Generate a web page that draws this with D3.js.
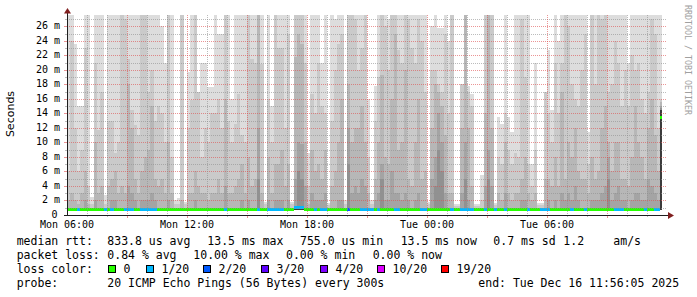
<!DOCTYPE html>
<html><head><meta charset="utf-8">
<script src="https://cdn.jsdelivr.net/npm/d3@7"></script>
<style>body{margin:0;background:#fff}svg{display:block}</style>
</head><body><svg id="c" width="697" height="297"></svg>
<script>
// ---- data (10-minute columns starting Mon 06:00), values in ms ----
const p20 = [
30,30,23.6,15,15,30,30,2.5,30,30,
30,2.8,30,30,30,30,30,30,30,30,
30,30,30,30,30,30,30,30,26,21,
30,30,2,2.3,30,1.8,19.7,30,30,17,
21,21,17.6,17.6,30,25,25,30,30,16,
30,30,30,30,30,30,30,30,30,1.8,
30,15,30,30,30,30,30,1.8,30,30,
30,30,8.5,30,30,30,21,30,1.6,30,
27,30,30,2,30,30,30,30,30,30,
16,2,17.8,30,30,30,27,30,30,30,
30,30,30,30,30,30,30,30,1.8,26,
30,25.7,25.7,30,24,30,1.5,1.5,18,30,
17.8,16.7,1.5,1.5,5.5,30,30,30,1.6,13.5,
12.6,30,13.5,11.4,30,30,30,30,30,7,
21,1.6,1.6,17,22.7,14.4,30,24,30,30,
30,30,30,30,30,30,11.5,30,30,30,
30,30,30,30,30,30,30,30,21,30,
30,30,30,30,30,30,30,30,30];
const p19 = [
6,24,12,6,9,23,4,1.5,21,11.7,
17,1.5,13,13,8.5,10,30,27,21.5,14.5,
12.4,11,30,30,17,20,13,15,14,10,
30,8,1.5,1.5,28,1.5,12,15.8,30,17,
8,12,10,14,14,16,12,30,13,10,
12.5,16.7,11,10,30,21.5,21,30,20.8,1.5,
16,10,30,23,23,12,25,1.5,30,30,
30,21,4,16.7,14,21,15,14,1.4,13,
20,23.6,25,1.5,30,30,27,20,23,30,
8,1.5,13,19,30,26,20,30,30,22.7,
21,30,27,23,21,27,24,17,1.5,20,
20,18,17,25,14,30,1.3,1.3,18,30,
17,15,1.3,1.3,2,30,30,30,1.4,8,
7,14,9,7,8.5,8,27,19,7,4,
9,1.4,1.4,17,14,10,21,14,21,30,
26,18,16,15,20,25,7,30,18,30,
27,30,17,18,24,21,15,20,15,22,
20,21,16,14,17,27,25,12,16];
const p18 = [
2,3,2,1.5,3,6,1.5,1,10,3,
4,1,4,5,6,3,4,3,18,12,
5,3,6,8,9,15,5,4,5,3,
10,3,1,1,2,1,3,3,6,4,
3,3,2,3,3,5,3,16,3,3,
4,5,7,3,8,4,5,30,3,1,
8,3,7,7,9,4,7,1,21.8,25,
23.6,10,1.5,9,6,7,5,9,1,4,
6,10,16,1,18,10,12,12,15,10,
3,1,5,10,19.3,8,7,16,25,9,
10,20,5,4,10,16,5,6,1,12,
18,17,15,11,3,3,1,1,12,30,
12,4,1,1,1,14,28,12,1,3,
2,10,3,2,3,3,5,8,3,2,
3,1,1,5,5,4,8,4,17,5,
10,8,12,6,5,5,3,8,5,6,
12,15,10,6,10,10,5,5,4,8,
15,10,8,5,12,16,11,6,15.5];
const p17 = [
1,1,1,1,1,2,1,0.9,2,1,
1,0.9,1,2,2,1,1,1,4,3,
2,1,2,2,2,3,2,1,1,1,
2,1,0.9,0.9,1,0.9,1,1,2,1,
1,1,1,1,1,1,1,4,1,1,
1,1,2,1,2,1,1,12,1,0.9,
2,1,2,2,2,1,2,0.9,5,10,
9.8,4,1,3,2,2,2,3,0.9,1,
1,2,2,0.9,12,3,4,3,5,4,
1,0.9,2,3,7,2,2,6,3,3,
2,3,2,1,2,3,1,1,0.9,5,
8,14,10,3,1,1,0.9,0.9,3,10,
2,1,0.9,0.9,0.9,4,9,4,0.9,1,
1,3,1,1,1,1,2,2,1,1,
1,0.9,0.9,1,2,1,2,1,3,2,
3,2,4,2,1,1,1,2,2,2,
3,4,8,2,3,4,2,2,1,2,
3,3,2,2,5,4,3,2,15];
const p16 = [
0.8,0.8,0.8,0.8,0.8,0.8,0.8,0.8,0.8,0.8,
0.8,0.8,0.8,0.8,0.8,0.8,0.8,0.8,0.8,0.8,
0.8,0.8,0.8,0.8,0.8,0.8,0.8,0.8,0.8,0.8,
0.8,0.8,0.8,0.8,0.8,0.8,0.8,0.8,0.8,0.8,
0.8,0.8,0.8,0.8,0.8,0.8,0.8,0.8,0.8,0.8,
0.8,0.8,0.8,0.8,0.8,0.8,0.8,5,0.8,0.8,
0.8,0.8,0.8,0.8,0.8,0.8,0.8,0.8,0.8,6,
5,0.8,0.8,0.8,0.8,0.8,0.8,0.8,0.8,0.8,
0.8,0.8,0.8,0.8,7,0.8,0.8,0.8,0.8,0.8,
0.8,0.8,0.8,0.8,5,0.8,0.8,0.8,0.8,0.8,
0.8,0.8,0.8,0.8,0.8,0.8,0.8,0.8,0.8,0.8,
4,9,6,0.8,0.8,0.8,0.8,0.8,0.8,5,
0.8,0.8,0.8,0.8,0.8,0.8,5,0.8,0.8,0.8,
0.8,0.8,0.8,0.8,0.8,0.8,0.8,0.8,0.8,0.8,
0.8,0.8,0.8,0.8,0.8,0.8,0.8,0.8,0.8,0.8,
0.8,0.8,0.8,0.8,0.8,0.8,0.8,0.8,0.8,0.8,
0.8,0.8,5,0.8,0.8,0.8,0.8,0.8,0.8,0.8,
0.8,0.8,0.8,0.8,0.8,0.8,0.8,0.8,14.8];
const innerCore = p16.map((v, i) => i === p16.length - 1 ? 14.5 : 0.8);
const median = [
0.8,0.8,0.8,0.8,0.8,0.8,0.8,0.8,0.8,0.8,
0.8,0.8,0.8,0.8,0.8,0.8,0.8,0.8,0.8,0.8,
0.8,0.8,0.8,0.8,0.8,0.8,0.8,0.8,0.8,0.8,
0.8,0.8,0.8,0.8,0.8,0.8,0.8,0.8,0.8,0.8,
0.8,0.8,0.8,0.8,0.8,0.8,0.8,0.8,0.8,0.8,
0.8,0.8,0.8,0.8,0.8,0.8,0.8,0.8,0.8,0.8,
0.8,0.8,0.8,0.8,0.8,0.8,0.8,0.8,1.1,1.1,
1.1,0.8,0.8,0.8,0.8,0.8,0.8,0.8,0.8,0.8,
0.8,0.8,0.8,0.8,0.8,0.8,0.8,0.8,0.8,0.8,
0.8,0.8,0.8,0.8,0.8,0.8,0.8,0.8,0.8,0.8,
0.8,0.8,0.8,0.8,0.8,0.8,0.8,0.8,0.8,0.8,
0.8,0.8,0.8,0.8,0.8,0.8,0.8,0.8,0.8,0.8,
0.8,0.8,0.8,0.8,0.8,0.8,0.8,0.8,0.8,0.8,
0.8,0.8,0.8,0.8,0.8,0.8,0.8,0.8,0.8,0.8,
0.8,0.8,0.8,0.8,0.8,0.8,0.8,0.8,0.8,0.8,
0.8,0.8,0.8,0.8,0.8,0.8,0.8,0.8,0.8,0.8,
0.8,0.8,0.8,0.8,0.8,0.8,0.8,0.8,0.8,0.8,
0.8,0.8,0.8,0.8,0.8,0.8,0.8,0.8,13.5];
const loss = [
0,0,0,1,0,0,0,0,0,0,
0,1,0,1,0,0,0,1,1,1,
0,0,1,1,1,1,1,0,0,0,
0,0,0,0,0,0,0,0,0,0,
0,0,0,0,0,0,0,1,0,0,
0,0,0,0,0,0,0,1,0,0,
1,1,1,1,1,0,0,0,1,1,
1,0,0,0,1,0,1,1,0,0,
0,0,0,0,2,0,0,0,1,1,
1,1,0,1,0,0,0,0,1,1,
0,0,0,0,0,0,1,1,0,0,
0,0,0,0,0,1,0,0,1,1,
1,1,0,0,0,1,0,0,1,0,
0,1,0,0,0,0,0,0,1,0,
0,0,1,1,1,0,0,0,0,0,
0,1,0,0,0,1,0,0,0,0,
0,0,0,0,1,1,1,0,0,0,
0,0,0,1,0,0,1,1,0];
const minRtt = 0.72;
const yTicks = [0,2,4,6,8,10,12,14,16,18,20,22,24,26];
const yTickLabels = ["0","2 m","4 m","6 m","8 m","10 m","12 m","14 m","16 m","18 m","20 m","22 m","24 m","26 m"];
const lossThresh = [0,1,2,3,4,10,19];
const lossLabels = ["0","1/20","2/20","3/20","4/20","10/20","19/20"];
const lossColors = ["#26ff00","#00b8ff","#0059ff","#5e00ff","#7e00ff","#dd00ff","#ff0000"];
const legendLines = [
  [["median rtt:",16.7],["833.8 us avg",107.3],["13.5 ms max",207.3],["755.0 us min",300],["13.5 ms now",400.7],["0.7 ms sd",493.3],["1.2",563.3],["am/s",613.3]],
  [["packet loss:",16.7],["0.84 % avg",107.3],["10.00 % max",193.3],["0.00 % min",286],["0.00 % now",372.7]],
  [["loss color:",16.7]],
  [["probe:",16.7],["20 ICMP Echo Pings (56 Bytes) every 300s",107.3],["end: Tue Dec 16 11:56:05 2025",478.3]]
];

// ---- layout ----
const svg = d3.select("#c");
const t0 = new Date(2025,11,15,6,0,0), tEnd = new Date(2025,11,16,12,0,0);
const dataEnd = new Date(2025,11,16,11,45,0);
const stepMs = 10*60*1000;
const x = d3.scaleTime().domain([t0,tEnd]).range([67,667]);
const y = d3.scaleLinear().domain([0,27.55]).range([215,15]);
const mono = "'DejaVu Sans Mono', monospace";

svg.append("defs").append("clipPath").attr("id","plot")
  .append("rect").attr("x",67).attr("y",15).attr("width",600).attr("height",200);
const g = svg.append("g").attr("clip-path","url(#plot)").attr("shape-rendering","crispEdges");

const colX = i => Math.round(x(new Date(t0.getTime()+i*stepMs)));
const colX1 = i => Math.round(x(new Date(Math.min(t0.getTime()+(i+1)*stepMs, dataEnd.getTime()))));

const bands = [
  [p20,"#dddddd"],[p19,"#cacaca"],[p18,"#b7b7b7"],[p17,"#a4a4a4"],[p16,"#919191"],[innerCore,"#3c3c3c"]
];
bands.forEach(([vals,col]) => {
  g.append("g").selectAll("rect").data(vals.map((v,i)=>({v,i})).filter(d=>d.v>minRtt))
    .join("rect")
    .attr("x",d=>colX(d.i)).attr("width",d=>colX1(d.i)-colX(d.i))
    .attr("y",d=>y(Math.min(d.v,29))).attr("height",d=>y(minRtt)-y(Math.min(d.v,29)))
    .attr("fill",col);
});
const lossColor = n => { let c = lossColors[0]; lossThresh.forEach((t,k)=>{ if(n>=t) c = lossColors[k]; }); return c; };
g.append("g").selectAll("rect").data(median.map((v,i)=>({v,i,l:loss[i]})))
  .join("rect")
  .attr("x",d=>colX(d.i)).attr("width",d=>colX1(d.i)-colX(d.i))
  .attr("y",d=>Math.round(y(d.v))-1).attr("height",3)
  .attr("fill",d=>lossColor(d.l));

// ---- grid (on top) ----
const grid = svg.append("g").attr("shape-rendering","crispEdges");
const minorCol = "rgba(143,143,143,0.6)", majorCol = "rgba(222,79,79,0.6)";
d3.range(1,28).forEach(v => {
  const yy = Math.round(y(v))+0.5;
  grid.append("line").attr("x1",67).attr("x2",667).attr("y1",yy).attr("y2",yy)
    .attr("stroke", v%2===0 ? majorCol : minorCol).attr("stroke-dasharray","1,1");
  grid.append("line").attr("x1",v%2===0?64:65).attr("x2",67).attr("y1",yy).attr("y2",yy)
    .attr("stroke", v%2===0 ? majorCol : minorCol);
});
d3.timeHour.range(new Date(2025,11,15,7), tEnd).forEach(t => {
  const xx = Math.round(x(t))+0.5;
  const major = t.getHours()%3===0;
  grid.append("line").attr("x1",xx).attr("x2",xx).attr("y1",15).attr("y2",215)
    .attr("stroke", major ? majorCol : minorCol).attr("stroke-dasharray","1,1");
  grid.append("line").attr("x1",xx).attr("x2",xx).attr("y1",215).attr("y2",major?218:217)
    .attr("stroke", major ? majorCol : minorCol);
});

// ---- axes ----
const ax = svg.append("g").attr("shape-rendering","crispEdges");
ax.append("line").attr("x1",67.5).attr("x2",67.5).attr("y1",216).attr("y2",12).attr("stroke","#1f1f1f");
ax.append("line").attr("x1",64).attr("x2",670).attr("y1",215.5).attr("y2",215.5).attr("stroke","#1f1f1f");
svg.append("path").attr("d","M64,13.5 L71,13.5 L67.5,8 Z").attr("fill","#801f1f");
svg.append("path").attr("d","M668,212 L668,219 L674,215.5 Z").attr("fill","#801f1f");

// y labels
svg.append("g").selectAll("text").data(yTicks).join("text")
  .attr("x",d=> d===0 ? 57.5 : 60).attr("y",d=>Math.round(y(d))+3)
  .attr("text-anchor","end").attr("font-family",mono).attr("font-size","10px").attr("fill","#000")
  .text((d,i)=>yTickLabels[i]);
// x labels
const xTicks = d3.timeHour.every(6).range(t0, tEnd);
const fmt = d3.timeFormat("%a %H:%M");
svg.append("g").selectAll("text").data(xTicks).join("text")
  .attr("x",d=>x(d)).attr("y",227.5).attr("text-anchor","middle")
  .attr("font-family",mono).attr("font-size","10px").attr("fill","#000")
  .text(d=>fmt(d));

svg.append("text").attr("transform","translate(14,114) rotate(-90)").attr("text-anchor","middle")
  .attr("font-family","'DejaVu Sans', sans-serif").attr("font-size","11px").attr("fill","#000").text("Seconds");
svg.append("text").attr("transform","translate(685,5) rotate(90)")
  .attr("font-family",mono).attr("font-size","8.3px").attr("fill","#a0a0a0").text("RRDTOOL / TOBI OETIKER");

// ---- legend ----
const baselines = [245.3,259,273,287];
legendLines.forEach((line,li) => {
  line.forEach(([txt,xx]) => {
    svg.append("text").attr("x",xx).attr("y",baselines[li]).attr("font-family",mono)
      .attr("font-size","11.5px").attr("fill","#000").attr("xml:space","preserve").text(txt);
  });
});
const boxX = [108.5,146.5,203.5,261.5,320.5,377.5,441.5];
lossLabels.forEach((lab,k) => {
  svg.append("rect").attr("x",boxX[k]).attr("y",265.5).attr("width",7).attr("height",7)
    .attr("fill",lossColors[k]).attr("stroke","#000").attr("shape-rendering","crispEdges");
  svg.append("text").attr("x",boxX[k]+15).attr("y",baselines[2]).attr("font-family",mono)
    .attr("font-size","11.5px").attr("fill","#000").text(lab);
});
</script></body></html>
